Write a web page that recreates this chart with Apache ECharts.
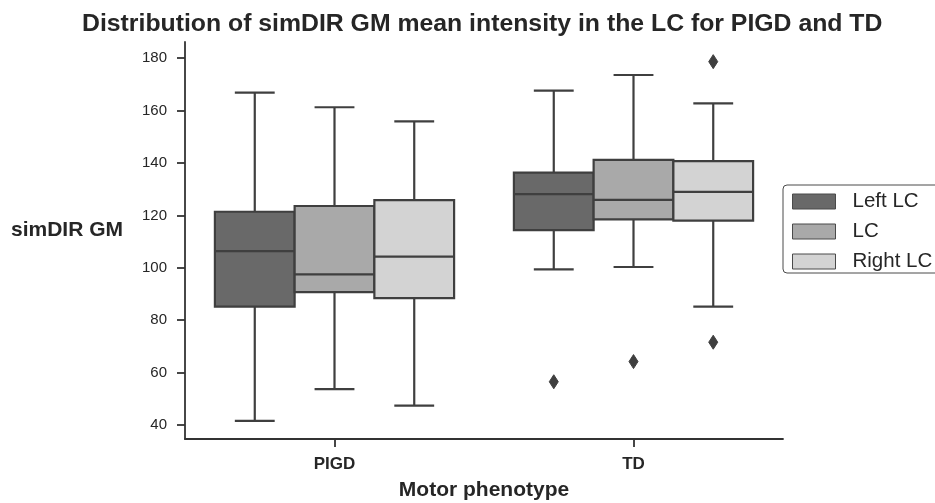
<!DOCTYPE html>
<html>
<head>
<meta charset="utf-8">
<script src="https://cdn.jsdelivr.net/npm/echarts@6/dist/echarts.min.js"></script>
<style>
html,body{margin:0;padding:0;background:#fff;}
#chart{width:935px;height:503px;}
</style>
</head>
<body>
<div id="chart"></div>
<script>
// ---- data ----
const categories = ['PIGD', 'TD'];
const hues = ['Left LC', 'LC', 'Right LC'];
// [min, Q1, median, Q3, max] per category
const leftLC = [[41.6, 85.2, 106.4, 121.4, 166.9], [99.4, 114.4, 128.1, 136.3, 167.6]];
const lcVals = [[53.7, 90.7, 97.5, 123.6, 161.3], [100.3, 118.5, 125.9, 141.2, 173.6]];
const rightLC = [[47.4, 88.4, 104.3, 125.8, 155.9], [85.2, 118.0, 129.0, 140.7, 162.8]];
// outliers: [categoryIndex, value]
const leftLCOut = [[1, 56.5]];
const lcOut = [[1, 64.2]];
const rightLCOut = [[1, 178.7], [1, 71.6]];
const yTicks = [40, 60, 80, 100, 120, 140, 160, 180];

const fills = ['#696969', '#a9a9a9', '#d3d3d3'];
const lineColor = '#3f3f3f';
const lw = 2.2;

const boxSets = [leftLC, lcVals, rightLC];
const outSets = [leftLCOut, lcOut, rightLCOut];

function boxRender(hi) {
  return function (params, api) {
    const ci = api.value(0);
    const band = api.size([1, 0])[0];
    const w = band * 0.8 / 3;
    const cx = api.coord([ci, 0])[0] + (hi - 1) * w;
    const y = v => api.coord([ci, v])[1];
    const yMin = y(api.value(1)), yQ1 = y(api.value(2)), yMed = y(api.value(3)),
          yQ3 = y(api.value(4)), yMax = y(api.value(5));
    const ls = { stroke: lineColor, lineWidth: lw };
    return {
      type: 'group',
      children: [
        { type: 'line', shape: { x1: cx, y1: yQ3, x2: cx, y2: yMax }, style: ls },
        { type: 'line', shape: { x1: cx, y1: yQ1, x2: cx, y2: yMin }, style: ls },
        { type: 'line', shape: { x1: cx - w / 4, y1: yMax, x2: cx + w / 4, y2: yMax }, style: ls },
        { type: 'line', shape: { x1: cx - w / 4, y1: yMin, x2: cx + w / 4, y2: yMin }, style: ls },
        { type: 'rect', shape: { x: cx - w / 2, y: yQ3, width: w, height: yQ1 - yQ3 },
          style: { fill: fills[hi], stroke: lineColor, lineWidth: lw } },
        { type: 'line', shape: { x1: cx - w / 2, y1: yMed, x2: cx + w / 2, y2: yMed }, style: ls }
      ]
    };
  };
}

function outRender(hi) {
  return function (params, api) {
    const ci = api.value(0);
    const band = api.size([1, 0])[0];
    const w = band * 0.8 / 3;
    const cx = api.coord([ci, 0])[0] + (hi - 1) * w;
    const cy = api.coord([ci, api.value(1)])[1];
    const dx = 4.5, dy = 7;
    return {
      type: 'polygon',
      shape: { points: [[cx, cy - dy], [cx + dx, cy], [cx, cy + dy], [cx - dx, cy]] },
      style: { fill: lineColor, stroke: lineColor, lineWidth: 1 }
    };
  };
}

const series = [];
hues.forEach((h, hi) => {
  series.push({
    name: h,
    type: 'custom',
    renderItem: boxRender(hi),
    itemStyle: { color: fills[hi], borderColor: lineColor },
    encode: { x: 0, y: [1, 2, 3, 4, 5] },
    data: boxSets[hi].map((r, ci) => [ci].concat(r)),
    z: 2
  });
});
hues.forEach((h, hi) => {
  series.push({
    name: h + ' outliers',
    type: 'custom',
    renderItem: outRender(hi),
    itemStyle: { color: lineColor },
    encode: { x: 0, y: 1 },
    data: outSets[hi],
    z: 3
  });
});

const chart = echarts.init(document.getElementById('chart'), null, { renderer: 'canvas' });
chart.setOption({
  animation: false,
  backgroundColor: '#ffffff',
  title: {
    text: 'Distribution of simDIR GM mean intensity in the LC for PIGD and TD',
    left: 82, top: 12, padding: 0,
    textStyle: { fontFamily: 'Liberation Sans', fontSize: 24.8, fontWeight: 'bold', color: '#262626' }
  },
  legend: {
    data: hues.map((h, i) => ({ name: h, itemStyle: { color: fills[i], borderColor: '#4a4a4a', borderWidth: 1 } })),
    orient: 'vertical',
    left: 783, top: 185,
    icon: 'rect',
    itemWidth: 43, itemHeight: 15, itemGap: 9,
    padding: [6, 14, 1, 9],
    borderColor: '#4a4a4a', borderWidth: 1, borderRadius: 4,
    backgroundColor: '#ffffff',
    textStyle: { fontFamily: 'Liberation Sans', fontSize: 20.5, color: '#262626', padding: [0, 0, 0, 12] }
  },
  grid: { left: 185, right: 152, top: 42, bottom: 64, containLabel: false, outerBoundsMode: 'none' },
  xAxis: {
    type: 'category',
    data: categories,
    boundaryGap: true,
    name: 'Motor phenotype',
    nameLocation: 'middle',
    nameGap: 41,
    nameTextStyle: { fontFamily: 'Liberation Sans', fontSize: 21, fontWeight: 'bold', color: '#262626' },
    axisLine: { show: true, lineStyle: { color: '#333', width: 1.8 } },
    axisTick: { show: true, alignWithLabel: true, length: 8, lineStyle: { color: '#333', width: 1.8 } },
    axisLabel: { fontFamily: 'Liberation Sans', fontSize: 17, fontWeight: 'bold', color: '#262626', margin: 17 },
    splitLine: { show: false }
  },
  yAxis: {
    type: 'value',
    min: 34.65, max: 186.2,
    name: 'simDIR GM',
    nameLocation: 'middle',
    nameRotate: 0,
    nameGap: 62,
    nameTextStyle: { fontFamily: 'Liberation Sans', fontSize: 21, fontWeight: 'bold', color: '#262626', verticalAlign: 'bottom' },
    axisLine: { show: true, lineStyle: { color: '#333', width: 1.8 } },
    axisTick: { show: true, length: 8, customValues: yTicks, lineStyle: { color: '#333', width: 1.8 } },
    axisLabel: { fontFamily: 'Liberation Sans', fontSize: 15, color: '#262626', margin: 18, customValues: yTicks },
    splitLine: { show: false }
  },
  series: series
});
</script>
</body>
</html>
